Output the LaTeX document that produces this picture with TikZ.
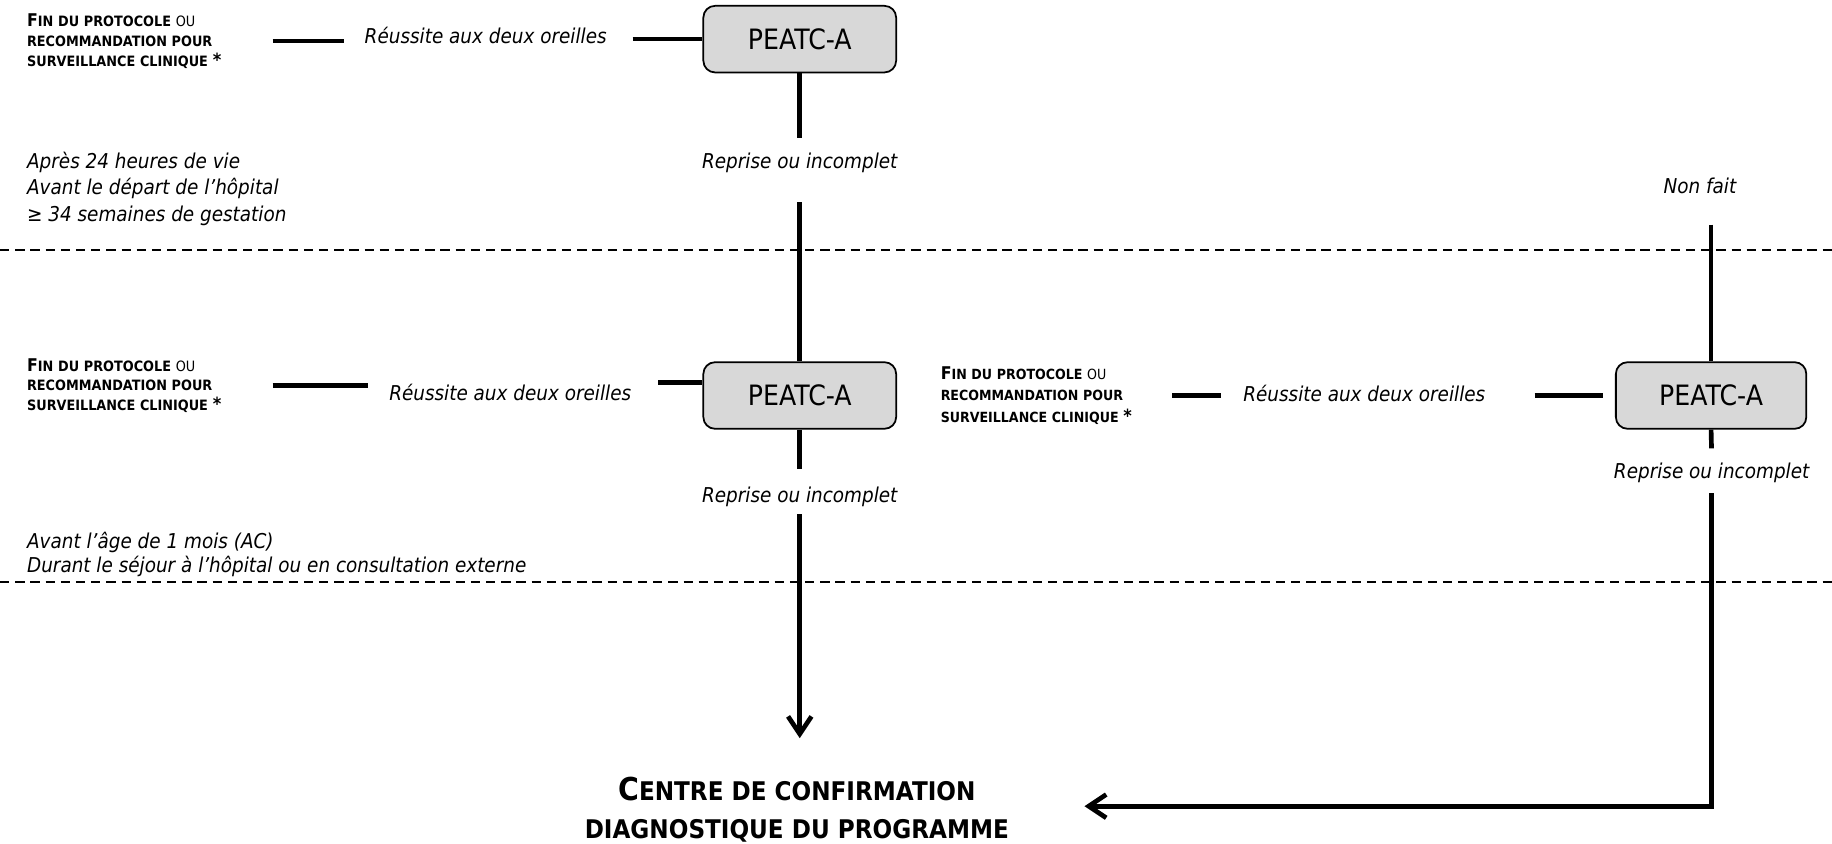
\documentclass[tikz,border=0pt]{standalone}
\usepackage{fontspec}
\setmainfont{DejaVu Sans}[FakeStretch=0.9]
\usetikzlibrary{arrows.meta}
\definecolor{boxgray}{RGB}{216,216,216}
\newcommand\capF[1]{{\fontsize{15}{17}\selectfont #1}}
\newcommand\capC[1]{{\fontsize{27}{32}\selectfont #1}}
\newcommand\bigstar{{\fontsize{15.5}{17}\selectfont *}}
\tikzset{
  conn/.style={line width=4pt},
  arr/.style={line width=4pt, -{Straight Barb[length=15pt,width=20pt]}},
  dashline/.style={line width=1.2pt, dash pattern=on 8pt off 5pt},
  peatc/.style={draw, line width=1.5pt, fill=boxgray, rounded corners=10pt,
    minimum width=165pt, minimum height=57pt, inner sep=0pt,
    font=\fontsize{24}{28}\selectfont},
  lbl/.style={inner sep=0pt, font=\fontsize{17.5}{22}\selectfont\itshape},
  fin/.style={inner sep=0pt, anchor=west, align=left, text width=190pt,
    font=\fontsize{12.2}{17}\selectfont},
  centretxt/.style={inner sep=0pt, align=center, minimum width=400pt,
    minimum height=80pt, font=\fontsize{22}{32}\selectfont\bfseries},
}
\begin{document}
\begin{tikzpicture}[x=1pt,y=-1pt]
\useasboundingbox (0,0) rectangle (1568,722);
% dashed separators
\coordinate (d1l) at (0,214); \coordinate (d1r) at (1568,214);
\coordinate (d2l) at (0,498); \coordinate (d2r) at (1568,498);
\draw[dashline] (d1l) -- (d1r);
\draw[dashline] (d2l) -- (d2r);

% boxes
\node[peatc] (box1) at (684.5,33.5) {PEATC-A};
\node[peatc] (box2) at (684.5,338.5) {PEATC-A};
\node[peatc, minimum width=163pt] (box3) at (1464.5,338.5) {PEATC-A};

% row 1
\node[fin] (fin1) at (23,35) {\textbf{\capF{F}IN DU PROTOCOLE} OU\\\textbf{RECOMMANDATION POUR}\\\textbf{SURVEILLANCE CLINIQUE \bigstar}};
\node[lbl, anchor=west, minimum width=209pt] (reu1) at (311,30) {Réussite aux deux oreilles};
\draw[conn, shorten <=20pt, shorten >=17pt] (fin1.east) -- (fin1.east -| reu1.west);
\draw[conn, shorten <=21pt] (reu1.east |- box1.west) -- (box1.west);

% row 2
\node[fin] (fin2) at (23,330) {\textbf{\capF{F}IN DU PROTOCOLE} OU\\\textbf{RECOMMANDATION POUR}\\\textbf{SURVEILLANCE CLINIQUE \bigstar}};
\node[lbl, anchor=west, minimum width=209pt] (reu2) at (332,336) {Réussite aux deux oreilles};
\draw[conn, shorten <=20pt, shorten >=17pt] (fin2.east) -- (fin2.east -| reu2.west);
\coordinate (j2) at ([yshift=11pt]box2.west);
\draw[conn, shorten <=22pt] (j2 -| reu2.east) -- (j2);

% row 3 (right)
\node[fin, font=\fontsize{12}{18.5}\selectfont] (fin3) at (805,338.5) {\textbf{\capF{F}IN DU PROTOCOLE} OU\\\textbf{RECOMMANDATION POUR}\\\textbf{SURVEILLANCE CLINIQUE \bigstar}};
\node[lbl, anchor=west, minimum width=209pt] (reu3) at (1063,337) {Réussite aux deux oreilles};
\draw[conn, shorten <=8pt, shorten >=18pt] (fin3.east) -- (fin3.east -| reu3.west);
\draw[conn, shorten <=41pt, shorten >=10pt] (reu3.east |- box3.west) -- (box3.west);

% time windows
\node[lbl, anchor=west, align=left, font=\fontsize{17.5}{22.5}\selectfont\itshape] (when1) at (23,161.5)
  {Après 24 heures de vie\\Avant le départ de l’hôpital\\≥ 34 semaines de gestation};
\node[lbl, anchor=west, align=left, font=\fontsize{17.5}{21}\selectfont\itshape] (when2) at (23,474.5)
  {Avant l’âge de 1 mois (AC)\\Durant le séjour à l’hôpital ou en consultation externe};

% verticals, centre column
\node[lbl, minimum height=30pt] (rep1) at (684.5,139) {Reprise ou incomplet};
\draw[conn, shorten >=6pt] (box1.south) -- (rep1.north);
\draw[conn, shorten <=19pt] (rep1.south) -- (box2.north);
\node[lbl, minimum height=30pt] (rep2) at (684.5,425) {Reprise ou incomplet};
\draw[conn, shorten >=8pt] (box2.south) -- (rep2.north);

\node[centretxt] (centre) at (682,693) {\capC{C}ENTRE DE CONFIRMATION\\DIAGNOSTIQUE DU PROGRAMME};
\draw[arr, shorten >=21pt] (rep2.south) -- (rep2.south |- centre.north);

% right column
\node[lbl, minimum height=30pt] (nonfait) at (1455,159) {Non fait};
\draw[conn, shorten <=18pt] (box3.north |- nonfait.south) -- (box3.north);
\node[lbl, minimum height=30pt] (rep3) at (1465,405) {Reprise ou incomplet};
\draw[conn, shorten >=6pt] (box3.south) -- (rep3.north);
\coordinate (cin) at ([yshift=3pt]centre.east);
\draw[arr, shorten <=2pt, shorten >=46pt] (rep3.south) |- (cin);
\end{tikzpicture}
\end{document}
